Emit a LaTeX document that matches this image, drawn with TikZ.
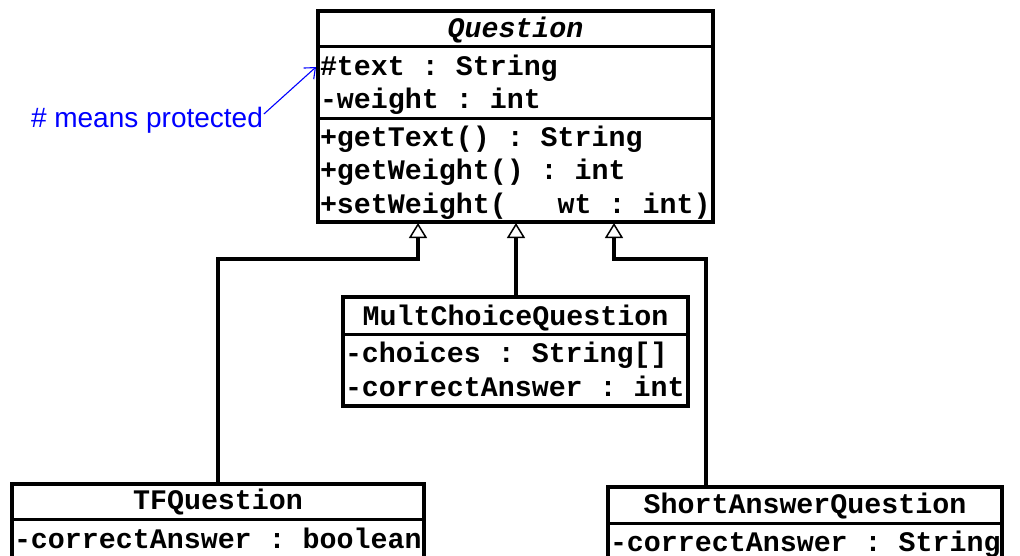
\documentclass[tikz,border=0pt]{standalone}
\usepackage{fontspec}
\newfontfamily\umlfont{Liberation Mono}
\newfontfamily\notefont{Liberation Sans}
\usetikzlibrary{arrows.meta,calc}
\frenchspacing
\begin{document}
\begin{tikzpicture}[x=1pt,y=-1pt,
  cls/.style={draw,line width=3.2pt,inner sep=0pt,outer sep=0pt,anchor=north west},
  divl/.style={line width=3pt},
  txt/.style={inner sep=0pt,outer sep=0pt,font=\umlfont\bfseries\fontsize{28.3}{34}\selectfont},
  attr/.style={txt,anchor=base west},
  ctitle/.style={txt,anchor=base},
  inh/.style={line width=3.2pt,-{Triangle[open,length=15pt,width=18pt,line width=1.5pt]}},
  notetxt/.style={inner sep=0pt,outer sep=0pt,anchor=base west,text=blue,font=\notefont\fontsize{28}{32}\selectfont},
  notearrow/.style={blue,line width=1.1pt,-{Straight Barb[length=9pt,width=15pt,line width=1.1pt]}}
  ]
\useasboundingbox (0,0) rectangle (1020,555);
\clip (0,0) rectangle (1020,555);
\fill[white] (0,0) rectangle (1020,555);

% Question
\node[cls,minimum width=395pt,minimum height=211pt] (q) at (318,11) {};
\draw[divl] ($(q.north west)+(0,35)$) -- ($(q.north east)+(0,35)$);
\draw[divl] ($(q.north west)+(0,107)$) -- ($(q.north east)+(0,107)$);
\node[ctitle,font=\umlfont\bfseries\itshape\fontsize{28.3}{34}\selectfont] (qt) at (515.5,37) {Question};
\node[attr] (q1) at (320,75) {\#text : String};
\node[attr] (q2) at (320,108) {-weight : int};
\node[attr] (q3) at (320,146) {+getText() : String};
\node[attr] (q4) at (320,179) {+getWeight() : int};
\node[attr] (q5) at (320,213) {+setWeight(~~~wt : int)};

% MultChoiceQuestion
\node[cls,minimum width=345pt,minimum height=109pt] (mc) at (343,297) {};
\draw[divl] ($(mc.north west)+(0,37)$) -- ($(mc.north east)+(0,37)$);
\node[ctitle] (mct) at (515.5,325) {MultChoiceQuestion};
\node[attr] (mc1) at (345,362) {-choices : String[]};
\node[attr] (mc2) at (345,396) {-correctAnswer : int};

% TFQuestion
\node[cls,minimum width=412pt,minimum height=100pt] (tf) at (12,484) {};
\draw[divl] ($(tf.north west)+(0,35)$) -- ($(tf.north east)+(0,35)$);
\node[ctitle] (tft) at (218,509) {TFQuestion};
\node[attr] (tf1) at (14,548) {-correctAnswer : boolean};

% ShortAnswerQuestion
\node[cls,minimum width=394pt,minimum height=100pt] (sa) at (608,487) {};
\draw[divl] ($(sa.north west)+(0,36)$) -- ($(sa.north east)+(0,36)$);
\node[ctitle] (sat) at (805,513) {ShortAnswerQuestion};
\node[attr] (sa1) at (610,551) {-correctAnswer : String};

% attach points
\coordinate (qa) at (418,223);
\coordinate (qb) at (516,223);
\coordinate (qc) at (614,223);
\coordinate (mctop) at (516,297);
\coordinate (satop) at (706,487);

% generalization connectors
\draw[inh] (tf.north) |- ($(qa)+(0,36)$) -- (qa);
\draw[inh] (mctop) -- (qb);
\draw[inh] (satop) |- ($(qc)+(0,36)$) -- (qc);

% note
\node[notetxt] (note) at (31,127) {\# means protected};
\coordinate (prot) at (316,67);
\draw[notearrow] ($(note.base east)+(1,-13)$) -- (prot);
\end{tikzpicture}
\end{document}
